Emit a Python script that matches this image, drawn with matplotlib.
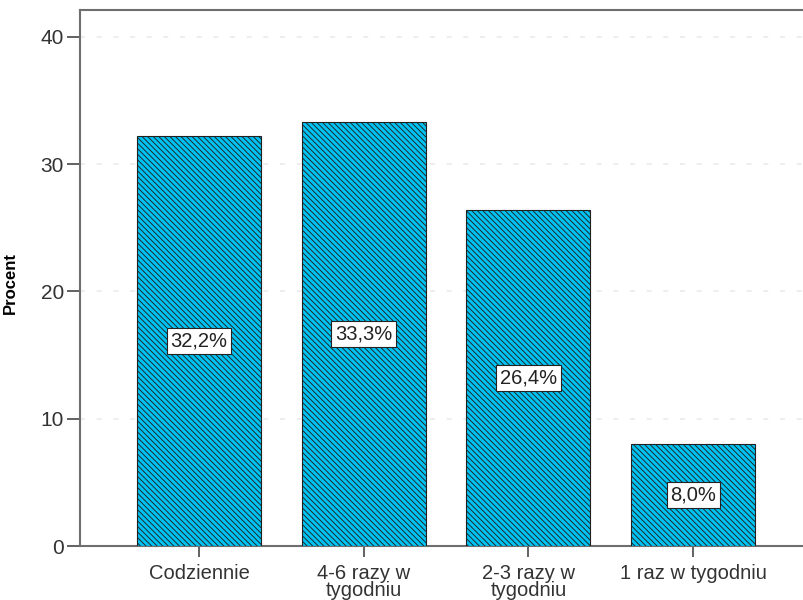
import matplotlib.pyplot as plt
import numpy as np

plt.rcParams['font.family'] = ['Liberation Sans', 'DejaVu Sans']
plt.rcParams['hatch.linewidth'] = 0.65
plt.rcParams['hatch.color'] = '#0a2a3a'

# dane: częstotliwość (procent odpowiedzi)
categories = ['Codziennie', '4-6 razy w\ntygodniu', '2-3 razy w\ntygodniu', '1 raz w tygodniu']
percent = [32.2, 33.3, 26.4, 8.0]
yticks = [0, 10, 20, 30, 40]

fig = plt.figure(figsize=(8.04, 6), dpi=100)
ax = fig.add_axes([80 / 804, 54 / 600, 724 / 804, 536 / 600])

x = np.arange(len(categories))
bars = ax.bar(x, percent, width=0.753, color='#00c2f2', edgecolor='#202020',
              linewidth=0.8, hatch='\\' * 6, zorder=3)

# etykiety z wartościami w środku słupków
for xi, v in zip(x, percent):
    ax.text(xi, v / 2, f'{v:.1f}%'.replace('.', ','), ha='center', va='center',
            fontsize=14.5, color='#222222', zorder=4,
            bbox=dict(boxstyle='square,pad=0.18', facecolor='white',
                      edgecolor='#222222', linewidth=0.8))

ax.set_xlim(-0.7225, 3.673)
ax.set_ylim(0, 42.1)
ax.set_yticks(yticks)
ax.set_xticks(x)
ax.set_xticklabels(categories, fontsize=14.5, color='#333333', linespacing=0.85)
ax.tick_params(axis='y', labelsize=15, labelcolor='#333333', length=9.5,
               width=1.3, color='#555555', pad=2)
ax.tick_params(axis='x', length=8, width=1.3, color='#555555', pad=5)

for yv in yticks[1:]:
    ax.axhline(yv, color='#ebebeb', linewidth=1.2, linestyle=(0, (3, 7)), zorder=1)

for side in ['left', 'top', 'bottom']:
    ax.spines[side].set_color('#6e6e6e')
    ax.spines[side].set_linewidth(1.5)
ax.spines['right'].set_visible(False)

ax.set_ylabel('Procent', fontsize=12, fontweight='bold')
ax.yaxis.set_label_coords(-0.086, 0.49)

fig.savefig('out.png', dpi=100)
